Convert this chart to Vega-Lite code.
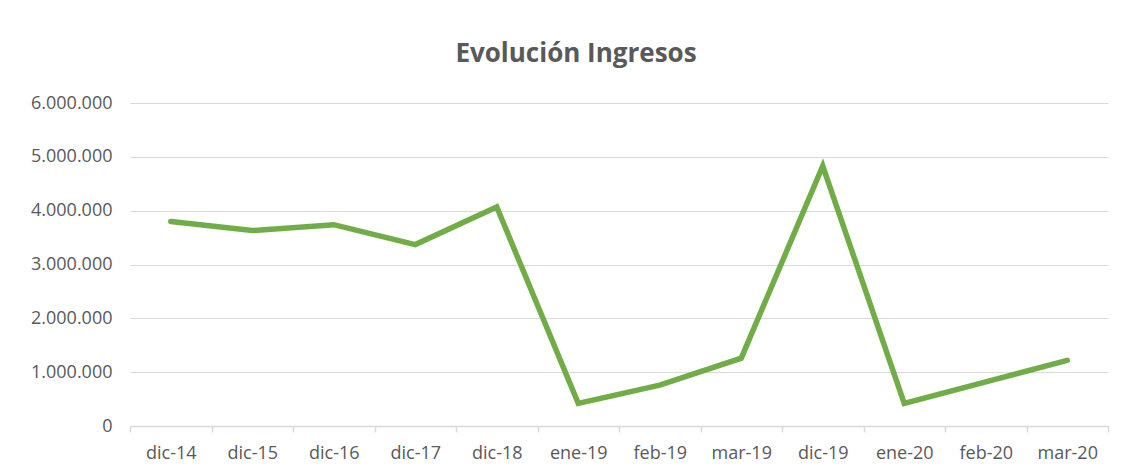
{
  "$schema": "https://vega.github.io/schema/vega-lite/v6.json",
  "width": 978,
  "height": 323,
  "autosize": "none",
  "padding": {"left": 130, "top": 103, "right": 22, "bottom": 46},
  "background": "#ffffff",
  "config": {
    "locale": {"number": {"decimal": ",", "thousands": ".", "grouping": [3], "currency": ["", " €"]}},
    "view": {"stroke": null},
    "font": "Open Sans"
  },
  "title": {
    "text": "Evolución Ingresos",
    "font": "Open Sans",
    "fontSize": 26,
    "fontWeight": "bold",
    "color": "#595959",
    "anchor": "middle",
    "dx": -43,
    "offset": 27
  },
  "data": {
    "values": [
      {"periodo": "dic-14", "ingresos": 3800000},
      {"periodo": "dic-15", "ingresos": 3630000},
      {"periodo": "dic-16", "ingresos": 3740000},
      {"periodo": "dic-17", "ingresos": 3370000},
      {"periodo": "dic-18", "ingresos": 4070000},
      {"periodo": "ene-19", "ingresos": 420000},
      {"periodo": "feb-19", "ingresos": 760000},
      {"periodo": "mar-19", "ingresos": 1260000},
      {"periodo": "dic-19", "ingresos": 4830000},
      {"periodo": "ene-20", "ingresos": 420000},
      {"periodo": "feb-20", "ingresos": 820000},
      {"periodo": "mar-20", "ingresos": 1220000}
    ]
  },
  "mark": {"type": "line", "color": "#70AD47", "strokeWidth": 5.5, "strokeJoin": "miter", "strokeCap": "round"},
  "encoding": {
    "x": {
      "field": "periodo",
      "type": "ordinal",
      "sort": null,
      "scale": {"paddingInner": 0, "paddingOuter": 0},
      "axis": {
        "title": null,
        "labelAngle": 0,
        "labelFont": "Open Sans",
        "labelFontSize": 18,
        "labelColor": "#595959",
        "labelPadding": 12,
        "tickBand": "extent",
        "ticks": true,
        "tickSize": 6,
        "tickColor": "#D9D9D9",
        "tickWidth": 1.5,
        "domainColor": "#D9D9D9",
        "domainWidth": 1.5,
        "grid": false
      }
    },
    "y": {
      "field": "ingresos",
      "type": "quantitative",
      "scale": {"domain": [0, 6000000], "nice": false},
      "axis": {
        "title": null,
        "values": [0, 1000000, 2000000, 3000000, 4000000, 5000000, 6000000],
        "format": ",d",
        "labelFont": "Open Sans",
        "labelFontSize": 18,
        "labelColor": "#595959",
        "labelPadding": 18,
        "ticks": false,
        "domain": false,
        "grid": true,
        "gridColor": "#D9D9D9",
        "gridWidth": 1.2
      }
    }
  }
}
